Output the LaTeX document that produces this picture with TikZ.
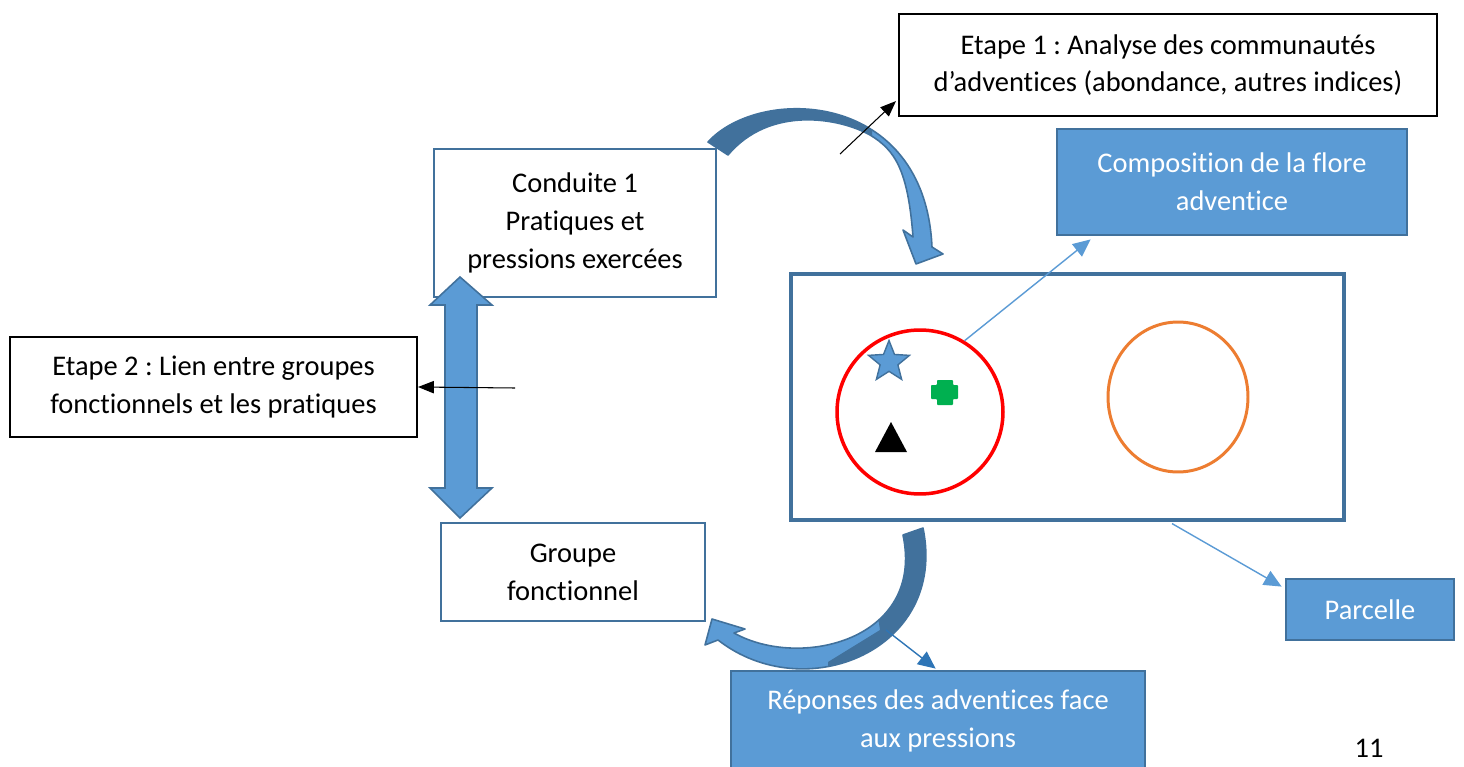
\documentclass[tikz,border=0pt]{standalone}
\usepackage{fontspec}
\setmainfont{Carlito}[Ligatures=NoCommon]
\usetikzlibrary{arrows.meta,shapes.geometric,calc}
\definecolor{lblue}{HTML}{5B9BD5}
\definecolor{dblue}{HTML}{41719C}
\definecolor{mblue}{HTML}{2E75B6}
\definecolor{orng}{HTML}{ED7D31}
\definecolor{grn}{HTML}{00B050}
\frenchspacing
\begin{document}
\begin{tikzpicture}[x=0.02cm,y=-0.02cm,
  txt/.style={font=\fontsize{16.2}{21.5}\selectfont, align=center},
  wbox/.style={txt, draw=dblue, line width=1.6pt, fill=white, inner sep=0pt},
  kbox/.style={txt, draw=black, line width=1.2pt, fill=white, inner sep=0pt},
  fbox/.style={txt, draw=dblue, line width=1.6pt, fill=lblue, text=white, inner sep=0pt},
  conn/.style={lblue, line width=0.8pt, -{Triangle[length=10pt,width=9pt]}},
  karrow/.style={black, line width=0.6pt, -{Triangle[length=9pt,width=7pt]}},
  bigline/.style={draw=dblue, line width=0.9pt, line join=round},
]
\useasboundingbox (0,0) rectangle (1464,767);

% boxes
\node[kbox, minimum width=10.76cm, minimum height=2.04cm] (e1) at (1168,65)
  {Etape 1 : Analyse des communautés\\d’adventices (abondance, autres indices)};
\node[wbox, minimum width=5.64cm, minimum height=2.96cm] (c1) at (575,223)
  {Conduite 1\\Pratiques et\\pressions exercées};
\node[fbox, minimum width=7.0cm, minimum height=2.12cm] (comp) at (1232,182)
  {Composition de la flore\\adventice};
\node[draw=dblue, line width=1.8pt, fill=white, minimum width=11.06cm, minimum height=4.92cm, inner sep=0pt] (plot) at (1067.5,397) {};
\node[kbox, minimum width=8.14cm, minimum height=2.0cm] (e2) at (213.5,387)
  {Etape 2 : Lien entre groupes\\fonctionnels et les pratiques};
\node[wbox, minimum width=5.28cm, minimum height=1.96cm] (gf) at (573,572)
  {Groupe\\fonctionnel};
\node[fbox, minimum width=8.28cm, minimum height=2.0cm] (rep) at (938,721)
  {Réponses des adventices face\\aux pressions};
\node[fbox, minimum width=3.36cm, minimum height=1.22cm] (parc) at (1370,609.5)
  {Parcelle};
\node[txt] (num) at (1369,748) {11};

% ellipses
\node[ellipse, draw=red, line width=2pt, minimum width=3.32cm, minimum height=3.28cm, inner sep=0pt] (red) at (920,412) {};
\node[ellipse, draw=orng, line width=1.7pt, minimum width=2.8cm, minimum height=3.0cm, inner sep=0pt] (org) at (1178,397) {};

% symbols
\node[star, star points=5, star point ratio=2.3, fill=lblue, draw=dblue, line width=0.8pt, minimum size=0.86cm, inner sep=0pt] (star) at (889,362) {};
\fill[grn, rounded corners=0.5pt] (937,380) -- (953,380) -- (953,385) -- (958,385) -- (958,399) -- (953,399) -- (953,405) -- (937,405) -- (937,399) -- (931,399) -- (931,385) -- (937,385) -- cycle;
\fill[black] (891,422) -- (907,452) -- (875,452) -- cycle;

% top curved arrow
\def\toparrow{(708,142) .. controls (760,85) and (925,90) .. (932,247) -- (943,254) -- (916,264) -- (903,230) -- (913,237) .. controls (908,170) and (895,150) .. (870,135) .. controls (840,118) and (770,105) .. (728,155) -- cycle}
\fill[lblue] \toparrow;
\begin{scope}
  \clip (600,0) -- (872,0) -- (872,300) -- (600,300) -- cycle;
  \fill[dblue] \toparrow;
\end{scope}
\draw[bigline] \toparrow;

% bottom curved arrow
\def\botarrow{(923,528) .. controls (948,650) and (805,708) .. (718,640) -- (705,645) -- (712,619) -- (745,629) -- (734,633) .. controls (800,670) and (925,640) .. (903,535) -- cycle}
\fill[lblue] \botarrow;
\begin{scope}
  \clip (1000,500) -- (860,500) -- (880,630) -- (828,662) -- (828,700) -- (1000,700) -- cycle;
  \fill[dblue] \botarrow;
\end{scope}
\draw[bigline] \botarrow;

% double vertical arrow
\filldraw[fill=lblue, draw=dblue, line width=0.9pt, line join=miter]
  (460,277) -- (492,305) -- (477,305) -- (477,488) -- (492,488) -- (460,518) -- (430,488) -- (445,488) -- (445,305) -- (430,305) -- cycle;

% thin connectors
\coordinate (k1) at (840,154);
\draw[karrow] (k1) -- ($(e1.south west)+(-2,-16)$);
\coordinate (k2) at (515,388);
\draw[karrow] (k2) -- (e2.east);
\draw[conn] (red.58) -- ($(comp.south west)+(35,3)$);
\draw[conn] ($(plot.south)+(104.5,2)$) -- ($(parc.north west)+(-3,9)$);
\coordinate (b3) at (886,630);
\draw[conn, mblue] (b3) -- ($(rep.north west)+(206,-1)$);
\end{tikzpicture}
\end{document}
